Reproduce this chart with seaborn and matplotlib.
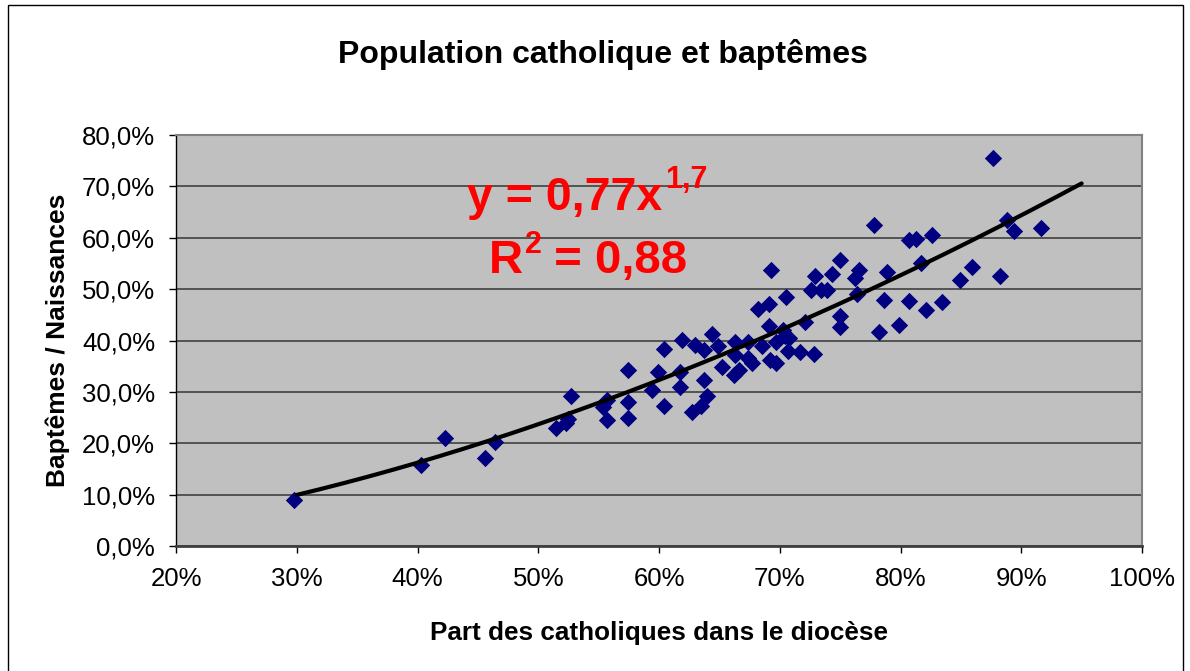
import numpy as np
import pandas as pd
import matplotlib
matplotlib.use("Agg")
import matplotlib.pyplot as plt
import seaborn as sns
from matplotlib.ticker import FuncFormatter, FixedLocator
from matplotlib.patches import Rectangle

# Part des catholiques dans le diocèse (%)
cath_share = [29.8, 40.3, 42.3, 45.6, 46.4, 51.5, 52.3, 52.5, 52.7, 55.4,
              55.7, 55.7, 57.4, 57.4, 57.4, 59.4, 59.9, 60.4, 60.4, 61.9,
              61.7, 61.7, 62.7, 63.0, 63.7, 63.7, 63.5, 64.0, 64.4, 64.9,
              65.2, 66.3, 66.2, 66.6, 66.3, 67.4, 67.4, 67.7, 68.2, 69.1,
              69.3, 68.5, 69.1, 69.2, 69.7, 69.7, 70.3, 70.4, 70.8, 70.5,
              70.7, 71.7, 72.1, 72.8, 72.9, 72.6, 73.4, 73.9, 74.3, 75.0,
              75.0, 75.0, 76.2, 76.6, 76.4, 78.2, 78.6, 78.9, 79.9, 77.8,
              80.7, 81.3, 82.6, 87.7, 88.8, 89.4, 91.6, 88.2, 85.9, 84.9,
              81.7, 80.7, 82.1, 83.4]
# Baptêmes / Naissances (%)
bapt_ratio = [9.0, 15.7, 21.1, 17.2, 20.3, 23.0, 24.0, 24.8, 29.2, 27.1,
              28.4, 24.5, 34.2, 28.0, 24.9, 30.4, 33.9, 38.4, 27.3, 40.1,
              33.8, 31.0, 26.0, 39.1, 38.1, 32.3, 27.3, 29.2, 41.3, 38.9,
              34.8, 39.8, 33.3, 34.3, 37.1, 39.8, 36.5, 35.7, 46.2, 47.1,
              53.7, 39.0, 42.8, 36.3, 35.7, 39.7, 42.0, 40.9, 40.4, 48.4,
              37.9, 37.8, 43.6, 37.3, 52.5, 49.8, 49.8, 49.8, 53.0, 55.6,
              44.8, 42.7, 52.1, 53.8, 49.1, 41.6, 47.8, 53.3, 43.1, 62.5,
              59.5, 59.8, 60.6, 75.5, 63.5, 61.4, 61.9, 52.5, 54.4, 51.7,
              55.0, 47.7, 45.9, 47.4]

# Trend line shown on the chart: y = 0,77 x^1,7 over 30%..95%
fit_coef = 0.77
fit_exp = 1.7
fit_range = [30, 95]

x_ticks = [20, 30, 40, 50, 60, 70, 80, 90, 100]
y_ticks = [0, 10, 20, 30, 40, 50, 60, 70, 80]

title = "Population catholique et baptêmes"
x_label = "Part des catholiques dans le diocèse"
y_label = "Baptêmes / Naissances"

sns.set_theme(style="white")
plt.rcParams["font.family"] = ["Liberation Sans", "DejaVu Sans"]

W, H = 1190, 671
fig = plt.figure(figsize=(W / 100, H / 100), dpi=100)
fig.patch.set_facecolor("white")

# outer chart border
fig.patches.append(Rectangle((8 / W, -0.01), (1183 - 8) / W, 1.01 - 5 / H,
                             transform=fig.transFigure, fill=False,
                             ec="black", lw=1.0))

ax = fig.add_axes([176 / W, 1 - 546 / H, (1142 - 176) / W, (546 - 135) / H])
ax.set_facecolor("#C0C0C0")

df = pd.DataFrame({"x": cath_share, "y": bapt_ratio})
xs = np.linspace(fit_range[0], fit_range[1], 200)
trend = pd.DataFrame({"x": xs, "y": 100 * fit_coef * (xs / 100) ** fit_exp})

sns.scatterplot(data=df, x="x", y="y", marker="D", color="#000080", s=78,
                linewidth=0, ax=ax, zorder=3)
sns.lineplot(data=trend, x="x", y="y", color="black", lw=3.0, ax=ax,
             zorder=4)

ax.set_xlim(x_ticks[0], x_ticks[-1])
ax.set_ylim(y_ticks[0], y_ticks[-1])
ax.xaxis.set_major_locator(FixedLocator(x_ticks))
ax.yaxis.set_major_locator(FixedLocator(y_ticks))
ax.xaxis.set_major_formatter(FuncFormatter(lambda v, p: f"{v:.0f}%"))
ax.yaxis.set_major_formatter(
    FuncFormatter(lambda v, p: f"{v:.1f}".replace(".", ",") + "%"))

ax.yaxis.grid(True, color="#404040", lw=1.2)
ax.xaxis.grid(False)
ax.set_axisbelow(True)

for s in ["top", "right"]:
    ax.spines[s].set_color("#808080")
    ax.spines[s].set_linewidth(1.5)
ax.spines["left"].set_color("black")
ax.spines["left"].set_linewidth(1.0)
ax.spines["bottom"].set_color("#404040")
ax.spines["bottom"].set_linewidth(2.0)

ax.tick_params(axis="both", direction="out", length=5, width=1,
               color="black", labelsize=18.5, labelcolor="black",
               left=True, bottom=True)
ax.tick_params(axis="y", pad=10)
ax.tick_params(axis="x", pad=10)

ax.set_xlabel(x_label, fontsize=18.8, fontweight="bold", color="black")
ax.set_ylabel(y_label, fontsize=19, fontweight="bold", color="black")
ax.xaxis.set_label_coords(0.5, (546 - 633) / 411)
ax.xaxis.label.set_va("center")
ax.yaxis.set_label_coords((58 - 176) / 966, 0.5)
ax.yaxis.label.set_va("center")

fig.text(603 / W, 1 - 54 / H, title, ha="center", va="center",
         fontsize=23, fontweight="bold", color="black")

red = "#FF0000"
t1 = fig.text(467 / W, 1 - 210 / H, "y = 0,77x", ha="left", va="baseline",
              fontsize=33.5, fontweight="bold", color=red)
ax.annotate("1,7", xy=(1.0, 1 - 188 / H), xycoords=(t1, "figure fraction"),
            xytext=(2, 0), textcoords="offset points", ha="left",
            va="baseline", fontsize=22, fontweight="bold", color=red,
            annotation_clip=False)
tR = fig.text(489 / W, 1 - 273 / H, "R", ha="left", va="baseline",
              fontsize=34, fontweight="bold", color=red)
t2 = ax.annotate("2", xy=(1.0, 1 - 253 / H), xycoords=(tR, "figure fraction"),
                 xytext=(1, 0), textcoords="offset points", ha="left",
                 va="baseline", fontsize=22, fontweight="bold", color=red,
                 annotation_clip=False)
ax.annotate(" = 0,88", xy=(1.0, 1 - 273 / H), xycoords=(t2, "figure fraction"),
            xytext=(0, 0), textcoords="offset points", ha="left",
            va="baseline", fontsize=34, fontweight="bold", color=red,
            annotation_clip=False)

fig.savefig("out.png", dpi=100)
